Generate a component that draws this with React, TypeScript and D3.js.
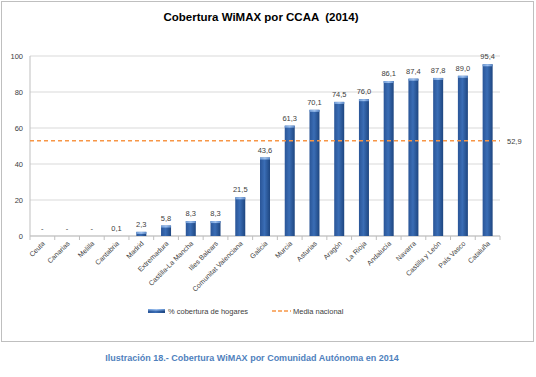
import React from "react";
import * as d3 from "d3";

const categories = ["Ceuta","Canarias","Melilla","Cantabria","Madrid","Extremadura","Castilla-La Mancha","Illes Balears","Comunitat Valenciana","Galicia","Murcia","Asturias","Aragón","La Rioja","Andalucía","Navarra","Castilla y León","País Vasco","Cataluña"];
const coverage: (number | null)[] = [null,null,null,0.1,2.3,5.8,8.3,8.3,21.5,43.6,61.3,70.1,74.5,76.0,86.1,87.4,87.8,89.0,95.4];
const nationalMean = 52.9;
const yTicks = [0,20,40,60,80,100];

const W = 536, H = 377;
const left = 30, right = 500, top = 56, bottom = 236;
const FONT = "'Liberation Sans', Arial, sans-serif";

export default function App() {
  const x = d3.scaleBand<string>().domain(categories).range([left, right]);
  const y = d3.scaleLinear().domain([0, 100]).range([bottom, top]);
  const bw = 10;
  const fmt = (v: number) => v.toFixed(1).replace(".", ",");
  return (
    <svg width={W} height={H} style={{ position: "absolute", left: 0, top: 0, fontFamily: FONT }}>
      <defs>
        <linearGradient id="barG" x1="0" x2="1" y1="0" y2="0">
          <stop offset="0" stopColor="#2a5597" />
          <stop offset="0.45" stopColor="#3a6db5" />
          <stop offset="1" stopColor="#1e4680" />
        </linearGradient>
        <linearGradient id="capG" x1="0" x2="1" y1="0" y2="0">
          <stop offset="0" stopColor="#6e9bd6" />
          <stop offset="0.5" stopColor="#9fc1ee" />
          <stop offset="1" stopColor="#5a88c8" />
        </linearGradient>
      </defs>
      <rect x={0} y={0} width={W} height={H} fill="#fff" />
      <rect x={1.5} y={1.5} width={532} height={340} fill="#fff" stroke="#bfbfbf" strokeWidth={1} />
      <text x={261} y={21} textAnchor="middle" fontSize={11.5} fontWeight="bold" fill="#000" style={{ whiteSpace: "pre" }}>{"Cobertura WiMAX por CCAA  (2014)"}</text>
      {yTicks.map(t => (
        <g key={t}>
          <line x1={left} x2={right} y1={y(t)} y2={y(t)} stroke="#d9d9d9" strokeWidth={1} />
          <text x={23} y={y(t) + 3} textAnchor="end" fontSize={7.5} fill="#404040">{t}</text>
        </g>
      ))}
      <line x1={left} x2={left} y1={top} y2={bottom} stroke="#bfbfbf" />
      <line x1={left} x2={right} y1={bottom} y2={bottom} stroke="#bfbfbf" />
      {categories.map((c, i) => (
        <line key={"t" + i} x1={x(c)!} x2={x(c)!} y1={bottom} y2={bottom + 4} stroke="#bfbfbf" />
      ))}
      <line x1={right} x2={right} y1={bottom} y2={bottom + 4} stroke="#bfbfbf" />
      {categories.map((c, i) => {
        const v = coverage[i];
        const cx = x(c)! + x.bandwidth() / 2;
        if (v === null) {
          return <text key={c} x={cx} y={y(0) - 5} textAnchor="middle" fontSize={7.5} fill="#404040">-</text>;
        }
        const yt = y(v);
        const h = bottom - yt;
        return (
          <g key={c}>
            {h > 0.5 && <rect x={cx - bw / 2} y={yt} width={bw} height={h} fill="url(#barG)" />}
            {h > 2 && <rect x={cx - bw / 2} y={yt} width={bw} height={2} fill="url(#capG)" />}
            <text x={cx} y={yt - 5} textAnchor="middle" fontSize={7.5} fill="#404040">{fmt(v)}</text>
          </g>
        );
      })}
      <line x1={left} x2={right} y1={y(nationalMean)} y2={y(nationalMean)} stroke="#f79646" strokeWidth={1.5} strokeDasharray="4,3" />
      <text x={507} y={y(nationalMean) + 3} fontSize={7.5} fill="#404040">{fmt(nationalMean)}</text>
      {categories.map(c => {
        const cx = x(c)! + x.bandwidth() / 2;
        return (
          <text key={"l" + c} transform={`translate(${cx + 3},${bottom + 8}) rotate(-45)`} textAnchor="end" fontSize={7} fill="#404040">{c}</text>
        );
      })}
      <rect x={148} y={309} width={17} height={4} fill="url(#barG)" />
      <rect x={148} y={309} width={17} height={1.5} fill="url(#capG)" />
      <text x={168} y={313.5} fontSize={7.5} fill="#404040">% cobertura de hogares</text>
      <line x1={272} x2={291} y1={311} y2={311} stroke="#f79646" strokeWidth={1.5} strokeDasharray="4,2" />
      <text x={293} y={313.5} fontSize={7.5} fill="#404040">Media nacional</text>
      <text x={252} y={361} textAnchor="middle" fontSize={9} fontWeight="bold" fill="#4f81bd">Ilustración 18.- Cobertura WiMAX por Comunidad Autónoma en 2014</text>
    </svg>
  );
}
